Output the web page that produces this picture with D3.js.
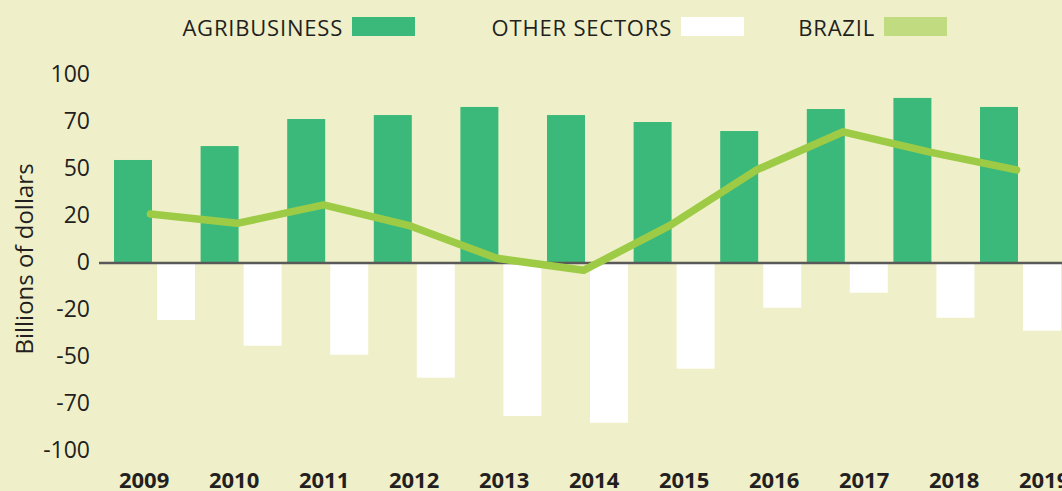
<!DOCTYPE html>
<html>
<head>
<meta charset="utf-8">
<script src="https://cdn.jsdelivr.net/npm/d3@7"></script>
<style>
  html, body { margin: 0; padding: 0; background: #eff0c9; overflow: hidden; }
  svg { display: block; font-family: "Open Sans", sans-serif; }
</style>
</head>
<body>
<div id="chart"></div>
<script>
// data (billions of dollars)
var years = ['2009','2010','2011','2012','2013','2014','2015','2016','2017','2018','2019'];
var agribusiness = [54.8, 62.2, 76.6, 78.7, 83.0, 78.7, 75.0, 70.2, 81.9, 87.8, 83.0];
var otherSectors = [-30.3, -44.0, -48.8, -61.0, -81.4, -85.0, -56.2, -23.8, -15.8, -29.1, -36.0];
var brazil = [26.1, 21.1, 30.9, 19.7, 2.5, -3.9, 20.0, 49.5, 69.8, 59.0, 49.5];

// tick values sit every 25, the printed labels are as shown in the original
var yTicks = [100, 75, 50, 25, 0, -25, -50, -75, -100];
var yTickLabels = ['100', '70', '50', '20', '0', '-20', '-50', '-70', '-100'];

var legendItems = ['AGRIBUSINESS', 'OTHER SECTORS', 'BRAZIL'];

var W = 1062, H = 491;
var colors = {
    bg: '#eff0c9',
    agri: '#3bb97a',
    other: '#ffffff',
    line: '#9ecb46',
    lineKey: '#c0db80',
    text: '#231f20',
    zero: '#595959'
};

var svg = d3.select('#chart').append('svg')
    .attr('width', W)
    .attr('height', H);

svg.append('rect')
    .attr('width', W)
    .attr('height', H)
    .attr('fill', colors.bg);

// scales
var x0 = d3.scaleBand()
    .domain(years)
    .range([114, 114 + years.length * 86.6]);

var x1 = d3.scaleBand()
    .domain(['agri', 'other'])
    .range([0, 81])
    .paddingInner(0.1163);

var xLabel = d3.scalePoint()
    .domain(years)
    .range([143.6, 1043.6]);

var y = d3.scaleLinear()
    .domain([-100, 100])
    .range([451, 75]);

// y axis labels
svg.append('g')
    .attr('class', 'axis-y')
    .attr('transform', 'translate(99,0)')
    .call(d3.axisLeft(y)
        .tickValues(yTicks)
        .tickSize(0)
        .tickPadding(9)
        .tickFormat(function(d, i) { return yTickLabels[i]; }))
    .call(function(g) {
        g.select('.domain').remove();
        g.selectAll('text')
            .attr('font-size', '23px')
            .attr('font-family', '"Open Sans", sans-serif')
            .attr('fill', colors.text)
            .attr('dy', '0.28em');
    });

svg.append('text')
    .attr('transform', 'translate(32.5,' + 259 + ') rotate(-90)')
    .attr('text-anchor', 'middle')
    .attr('font-size', '24px')
    .attr('fill', colors.text)
    .text('Billions of dollars');

// bars
var groups = svg.append('g')
    .attr('class', 'bars')
  .selectAll('g')
    .data(years)
  .enter().append('g')
    .attr('transform', function(d) { return 'translate(' + x0(d) + ',0)'; });

groups.append('rect')
    .attr('x', x1('agri'))
    .attr('width', x1.bandwidth())
    .attr('y', function(d, i) { return y(agribusiness[i]); })
    .attr('height', function(d, i) { return y(0) - y(agribusiness[i]); })
    .attr('fill', colors.agri);

groups.append('rect')
    .attr('x', x1('other'))
    .attr('width', x1.bandwidth())
    .attr('y', y(0))
    .attr('height', function(d, i) { return y(otherSectors[i]) - y(0); })
    .attr('fill', colors.other);

// zero line
svg.append('line')
    .attr('x1', 99)
    .attr('x2', W)
    .attr('y1', y(0))
    .attr('y2', y(0))
    .attr('stroke', colors.zero)
    .attr('stroke-width', 2.5);

// brazil line
var line = d3.line()
    .x(function(d, i) { return x0(years[i]) + x1('agri') + x1.bandwidth() - 1.5; })
    .y(function(d) { return y(d); });

svg.append('path')
    .datum(brazil)
    .attr('fill', 'none')
    .attr('stroke', colors.line)
    .attr('stroke-width', 7.5)
    .attr('stroke-linejoin', 'round')
    .attr('stroke-linecap', 'round')
    .attr('d', line);

// year labels
svg.append('g')
    .attr('class', 'axis-x')
    .attr('transform', 'translate(0,469)')
    .call(d3.axisBottom(xLabel).tickSize(0).tickPadding(3))
    .call(function(g) {
        g.select('.domain').remove();
        g.selectAll('text')
            .attr('font-size', '22px')
            .attr('font-weight', 'bold')
            .attr('font-family', '"Open Sans", sans-serif')
            .attr('fill', colors.text);
    });

// legend
var keyX = [352, 681, 884];
var keyFill = [colors.agri, colors.other, colors.lineKey];

var legend = svg.append('g')
    .attr('class', 'legend')
  .selectAll('g')
    .data(legendItems)
  .enter().append('g');

legend.append('rect')
    .attr('x', function(d, i) { return keyX[i]; })
    .attr('y', 17)
    .attr('width', 63)
    .attr('height', 19)
    .attr('fill', function(d, i) { return keyFill[i]; });

legend.append('text')
    .attr('x', function(d, i) { return keyX[i] - 9; })
    .attr('y', 35.5)
    .attr('text-anchor', 'end')
    .attr('font-size', '22px')
    .attr('letter-spacing', '0.8px')
    .attr('fill', colors.text)
    .text(function(d) { return d; });
</script>
</body>
</html>
